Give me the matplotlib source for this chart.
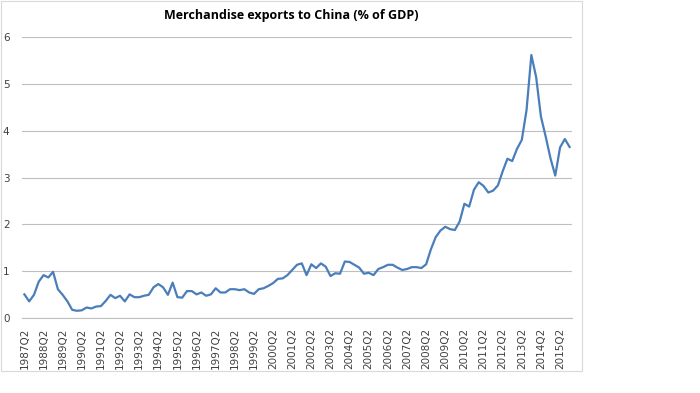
import matplotlib
matplotlib.use("Agg")
import matplotlib.pyplot as plt
from matplotlib.patches import Rectangle

# quarterly, 1987Q2 .. 2015Q4
start_year, start_q = 1987, 2
values = [
    0.51, 0.36, 0.50, 0.78, 0.92, 0.87, 0.99, 0.62, 0.50, 0.36,
    0.18, 0.16, 0.17, 0.23, 0.21, 0.25, 0.26, 0.37, 0.50, 0.43,
    0.48, 0.36, 0.51, 0.45, 0.45, 0.48, 0.50, 0.66, 0.73, 0.66,
    0.50, 0.76, 0.45, 0.44, 0.58, 0.58, 0.51, 0.55, 0.48, 0.51,
    0.64, 0.55, 0.55, 0.62, 0.62, 0.60, 0.62, 0.55, 0.52, 0.62,
    0.64, 0.69, 0.75, 0.84, 0.85, 0.92, 1.03, 1.14, 1.17, 0.92,
    1.15, 1.07, 1.17, 1.10, 0.90, 0.96, 0.95, 1.21, 1.20, 1.14,
    1.08, 0.95, 0.97, 0.92, 1.05, 1.09, 1.14, 1.14, 1.08, 1.03,
    1.05, 1.09, 1.09, 1.07, 1.15, 1.47, 1.73, 1.87, 1.95, 1.90,
    1.88, 2.06, 2.44, 2.38, 2.74, 2.90, 2.82, 2.68, 2.72, 2.83,
    3.13, 3.40, 3.35, 3.61, 3.80, 4.44, 5.61, 5.14, 4.30, 3.87,
    3.41, 3.04, 3.64, 3.82, 3.65,
]
quarters = []
y, q = start_year, start_q
for _ in values:
    quarters.append(f"{y}Q{q}")
    q += 1
    if q > 4:
        q = 1
        y += 1

title = "Merchandise exports to China (% of GDP)"
yticks = [0, 1, 2, 3, 4, 5, 6]

fig = plt.figure(figsize=(7.0, 3.93), dpi=100)
ax = fig.add_axes([22 / 700, 1 - 318.3 / 393, 550 / 700, (318.3 - 36.7) / 393])

x = list(range(len(values)))
ax.plot(x, values, color="#4A7EBB", linewidth=1.6, solid_joinstyle="round")

ax.set_xlim(-0.5, len(values) - 0.5)
ax.set_ylim(0, 6)
ax.set_yticks(yticks)
ax.set_yticklabels([str(t) for t in yticks], fontsize=7.5, color="#404040")
tick_pos = x[::4]
ax.set_xticks(tick_pos)
ax.set_xticklabels([quarters[i] for i in tick_pos], rotation=90, fontsize=7.5, color="#404040")
ax.tick_params(axis="both", length=0)
ax.tick_params(axis="y", pad=9)
ax.tick_params(axis="x", pad=7)

ax.grid(axis="y", color="#BFBFBF", linewidth=0.8)
ax.set_axisbelow(True)
for s in ["top", "right", "left"]:
    ax.spines[s].set_visible(False)
ax.spines["bottom"].set_color("#BFBFBF")
ax.spines["bottom"].set_linewidth(0.8)

fig.text(291 / 700, 1 - 16 / 393, title, ha="center", va="center",
         fontsize=9, fontweight="bold", family="Open Sans")

# chart-area border
fig.patches.append(Rectangle((0.5 / 700, 1 - 371 / 393), 581 / 700, 370 / 393,
                             transform=fig.transFigure, fill=False,
                             edgecolor="#D9D9D9", linewidth=0.8))

fig.savefig("out.png", dpi=100)
